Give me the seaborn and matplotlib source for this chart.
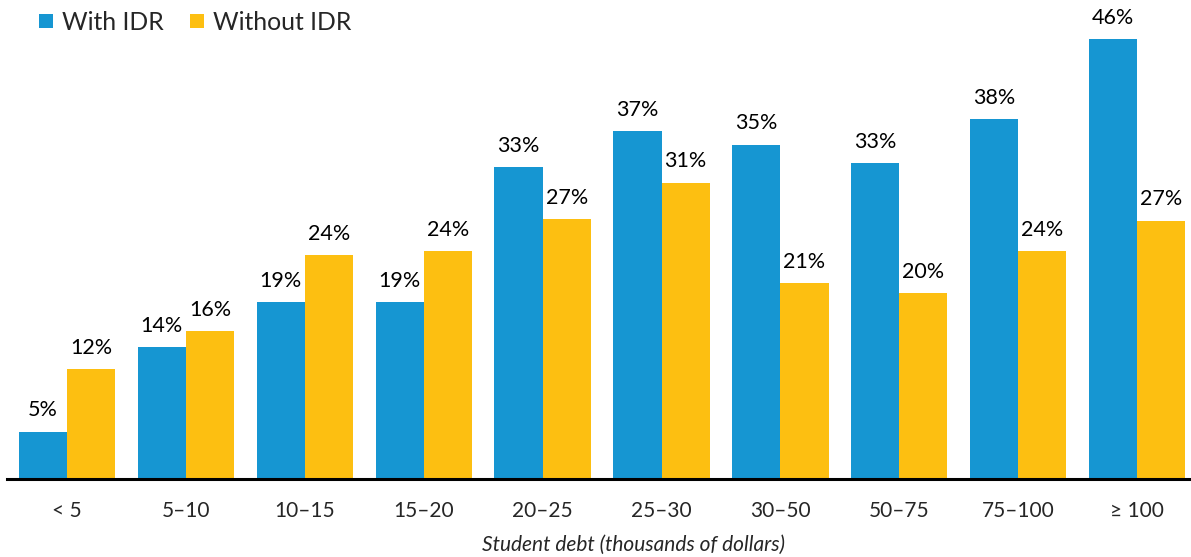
import matplotlib
matplotlib.use("Agg")
import matplotlib.pyplot as plt
import pandas as pd
import seaborn as sns
from matplotlib.lines import Line2D

DEBT_BINS = ["< 5", "5–10", "10–15", "15–20", "20–25", "25–30", "30–50", "50–75", "75–100", "≥ 100"]
WITH_IDR = [5.0, 13.9, 18.6, 18.6, 32.8, 36.6, 35.2, 33.3, 37.9, 46.3]
WITHOUT_IDR = [11.6, 15.6, 23.6, 24.0, 27.4, 31.2, 20.6, 19.6, 24.0, 27.2]
SERIES = ["With IDR", "Without IDR"]
COLORS = {"With IDR": "#1696d2", "Without IDR": "#fdbf11"}

df = pd.DataFrame({
    "debt": DEBT_BINS * 2,
    "share": WITH_IDR + WITHOUT_IDR,
    "group": [SERIES[0]] * len(DEBT_BINS) + [SERIES[1]] * len(DEBT_BINS),
})

sns.set_style("white")
plt.rcParams["font.family"] = ["Lato", "DejaVu Sans"]

fig = plt.figure(figsize=(11.91, 5.57), dpi=100)
ax = fig.add_axes([7 / 1191, 0.14, 1184 / 1191, 0.86])

sns.barplot(
    data=df, x="debt", y="share", hue="group", order=DEBT_BINS,
    hue_order=SERIES, palette=COLORS, width=0.81, saturation=1,
    linewidth=0, legend=False, ax=ax,
)

for cont, vals in zip(ax.containers, [WITH_IDR, WITHOUT_IDR]):
    ax.bar_label(cont, labels=[f"{v:.0f}%" for v in vals], padding=8,
                 fontsize=15.5, color="#000000")

ax.set_xlim(-0.505, 9.453)
ax.set_ylim(0, 479 / 9.5)
ax.set_yticks([])
ax.set_ylabel("")
ax.set_xlabel("Student debt (thousands of dollars)", fontsize=15,
              style="italic", va="center")
ax.xaxis.set_label_coords(0.529, -0.138)
ax.tick_params(axis="x", length=0, pad=16, labelsize=15)

for side in ["top", "right", "left"]:
    ax.spines[side].set_visible(False)
ax.spines["bottom"].set_color("black")
ax.spines["bottom"].set_linewidth(2.2)

handles = [Line2D([], [], marker="s", linestyle="none", markersize=10.5,
                  markerfacecolor=COLORS[s], markeredgewidth=0) for s in SERIES]
fig.legend(handles, SERIES, loc="upper left", bbox_to_anchor=(0.023, 0.998),
           ncol=2, frameon=False, fontsize=17.8, handlelength=0.7,
           handletextpad=0.3, columnspacing=1.0, borderaxespad=0)

fig.savefig("out.png", dpi=100)
